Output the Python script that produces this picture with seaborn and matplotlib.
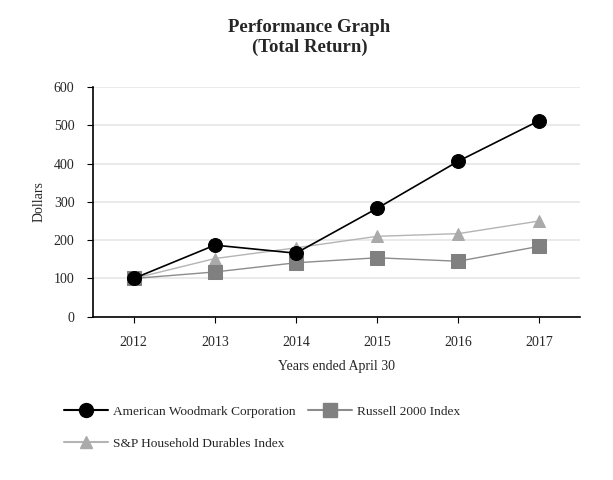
import numpy as np
import pandas as pd
import matplotlib
matplotlib.use('Agg')
import matplotlib.pyplot as plt
import seaborn as sns
from matplotlib.lines import Line2D

years = [2012, 2013, 2014, 2015, 2016, 2017]
awc = [100, 187, 166, 283, 406, 512]
russell = [100, 117, 141, 154, 145, 184]
sp_household = [100, 152, 180, 210, 217, 250]

names = ['American Woodmark Corporation', 'Russell 2000 Index', 'S&P Household Durables Index']

df = pd.DataFrame({
    'Year': years * 3,
    'Value': awc + russell + sp_household,
    'Series': sum([[n] * len(years) for n in names], []),
})

sns.set_style('white')
plt.rcParams['font.family'] = ['Liberation Serif', 'DejaVu Serif']

line_colors = {names[0]: '#000000', names[1]: '#8c8c8c', names[2]: '#b4b4b4'}
marker_colors = {names[0]: '#000000', names[1]: '#808080', names[2]: '#aaaaaa'}
markers = {names[0]: 'o', names[1]: 's', names[2]: '^'}
msizes = {names[0]: 10, names[1]: 10, names[2]: 9}

fig = plt.figure(figsize=(6.13, 4.8), dpi=100)
ax = fig.add_axes([0.152, 0.340, 0.794, 0.479])

# horizontal grid
ax.yaxis.grid(True, color='#e6e6e6', linewidth=1.2)
ax.set_axisbelow(True)

# draw in reverse so AWC sits on top
for n in names[::-1]:
    sub = df[df['Series'] == n]
    sns.lineplot(data=sub, x='Year', y='Value', ax=ax, color=line_colors[n],
                 linewidth=1.2 if n == names[0] else 1.0,
                 marker=markers[n], markersize=msizes[n],
                 markerfacecolor=marker_colors[n], markeredgecolor=marker_colors[n],
                 legend=False)

ax.set_xlim(2011.5, 2017.5)
ax.set_ylim(0, 600)
ax.set_xticks(years)
ax.set_xticklabels([str(y) for y in years])
ax.set_yticks(range(0, 700, 100))
ax.tick_params(axis='both', labelsize=10, length=4.5, width=0.8, direction='out',
               color='black', bottom=True, left=True)
ax.tick_params(axis='x', pad=9)
ax.tick_params(axis='y', pad=9)
for s in ['top', 'right']:
    ax.spines[s].set_visible(False)
for s in ['left', 'bottom']:
    ax.spines[s].set_color('black')
    ax.spines[s].set_linewidth(1.2)

ax.set_xlabel('Years ended April 30', fontsize=10, labelpad=8)
ax.set_ylabel('Dollars', fontsize=10, labelpad=6)

fig.text(0.505, 0.942, 'Performance Graph', ha='center', va='center',
         fontsize=13.5, fontweight='bold')
fig.text(0.505, 0.902, '(Total Return)', ha='center', va='center',
         fontsize=13.5, fontweight='bold')

handles = []
for n in [names[0], names[2], names[1]]:
    handles.append(Line2D([0], [0], color=line_colors[n], linewidth=1.5,
                          marker=markers[n], markersize=msizes[n],
                          markerfacecolor=marker_colors[n], markeredgecolor=marker_colors[n],
                          label=n))
fig.legend(handles=handles, loc='upper left', bbox_to_anchor=(0.085, 0.18), ncol=2,
           frameon=False, fontsize=9.6, handlelength=3.3, handletextpad=0.4,
           columnspacing=0.9, labelspacing=1.45)

plt.savefig('out.png', dpi=100)
